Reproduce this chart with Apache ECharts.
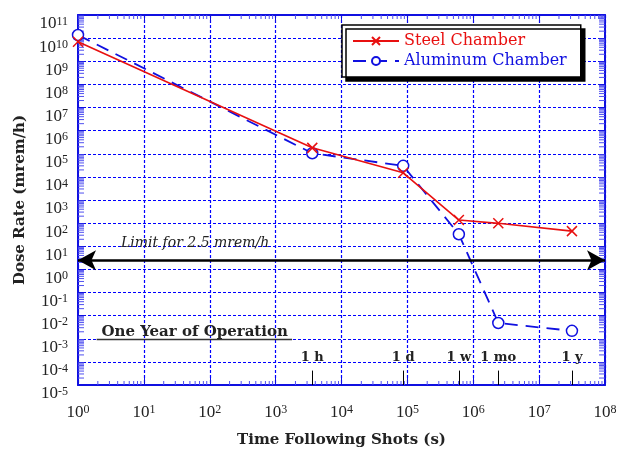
<!DOCTYPE html>
<html lang="en">
  <head>
    <meta charset="UTF-8" />
    <title>Dose Rate</title>
    <script src="https://cdn.jsdelivr.net/npm/echarts@6/dist/echarts.min.js"></script>
    <style>
      html, body { margin: 0; padding: 0; background: #fff; }
      #chart { width: 618px; height: 451px; }
    </style>
  </head>
  <body>
    <div id="chart"></div>
    <script>
      // data
      var steelTime = [1, 3600, 86400, 604800, 2.4e6, 3.15e7];
      var steelRate = [7e9, 1.8e5, 1.5e4, 136, 98, 45];
      var alumTime = [1, 3600, 86400, 604800, 2.4e6, 3.15e7];
      var alumRate = [1.36e10, 1.05e5, 3e4, 33, 0.0048, 0.0022];
      var eventTimes = [3600, 86400, 604800, 2.4e6, 3.15e7];
      var eventLabels = ["1 h", "1 d", "1 w", "1 mo", "1 y"];
      var limitRate = 2.5;
      var xMin = 1, xMax = 1e8, yMin = 1e-5, yMax = 1e11;

      var blue = "#1010e0";
      var red = "#e81010";
      var serif = "Liberation Serif";
      var serif2 = "DejaVu Serif";

      var chart = echarts.init(document.getElementById("chart"));

      function zip(a, b) {
        return a.map(function (v, i) { return [v, b[i]]; });
      }

      // minor tick positions 2..9 in each decade
      function minorVals(e0, e1) {
        var out = [];
        for (var e = e0; e < e1; e++) {
          for (var m = 2; m <= 9; m++) out.push(m * Math.pow(10, e));
        }
        return out;
      }
      var xMinor = minorVals(0, 8).map(function (v) { return [v, 1]; });
      var yMinor = minorVals(-5, 11).map(function (v) { return [1, v]; });

      function powLabel(v) {
        var e = Math.round(Math.log10(v));
        return "{b|10}{s|" + e + "}";
      }
      var powRich = {
        b: { fontSize: 17, fontFamily: serif, color: "#222", lineHeight: 17, padding: [4, 0, 0, 0], verticalAlign: "bottom" },
        s: { fontSize: 12, fontFamily: serif, color: "#222", lineHeight: 12, verticalAlign: "top" }
      };

      var splitStyle = { show: true, lineStyle: { color: "#0000ff", width: 1.2, type: [3, 2] } };
      var lineAxis = { show: true, lineStyle: { color: blue, width: 2 } };
      var majorTick = { show: true, inside: true, length: 7, lineStyle: { color: blue, width: 1 } };

      var crossPath = "path://M0,0L10,10M10,0L0,10";

      var option = {
        animation: false,
        grid: { left: 78, right: 13, top: 15, bottom: 66, show: false, outerBoundsMode: "none", containLabel: false },
        legend: {
          orient: "vertical",
          left: 342,
          top: 25,
          padding: [8, 14, 8, 10],
          itemGap: 4,
          itemWidth: 46,
          itemHeight: 10,
          backgroundColor: "#fff",
          borderColor: "#000",
          borderWidth: 1.5,
          shadowColor: "#000",
          shadowBlur: 0,
          shadowOffsetX: 4,
          shadowOffsetY: 4,
          textStyle: { fontFamily: serif2, fontSize: 16 },
          data: [
            { name: "Steel Chamber", textStyle: { color: red } },
            { name: "Aluminum Chamber", textStyle: { color: blue } }
          ]
        },
        xAxis: [
          {
            type: "log", logBase: 10, min: xMin, max: xMax, interval: 1,
            name: "Time Following Shots (s)", nameLocation: "middle", nameGap: 48,
            nameTextStyle: { fontFamily: serif2, fontWeight: "bold", fontSize: 15, color: "#222" },
            axisLine: lineAxis, axisTick: majorTick, splitLine: splitStyle,
            axisLabel: { margin: 19, formatter: powLabel, rich: powRich }
          },
          {
            type: "log", logBase: 10, min: xMin, max: xMax, interval: 1, position: "top",
            axisLine: lineAxis, axisTick: majorTick, splitLine: { show: false }, axisLabel: { show: false }
          }
        ],
        yAxis: [
          {
            type: "log", logBase: 10, min: yMin, max: yMax, interval: 1,
            name: "Dose Rate (mrem/h)", nameLocation: "middle", nameGap: 50,
            nameTextStyle: { fontFamily: serif2, fontWeight: "bold", fontSize: 15, color: "#222" },
            axisLine: lineAxis, axisTick: majorTick, splitLine: splitStyle,
            axisLabel: { margin: 10, padding: [18, 0, 0, 0], formatter: powLabel, rich: powRich }
          },
          {
            type: "log", logBase: 10, min: yMin, max: yMax, interval: 1, position: "right",
            axisLine: lineAxis, axisTick: majorTick, splitLine: { show: false }, axisLabel: { show: false }
          }
        ],
        series: [
          {
            type: "custom", silent: true, clip: false, data: xMinor,
            renderItem: function (params, api) {
              var v = api.value(0);
              var b = api.coord([v, yMin]);
              var t = api.coord([v, yMax]);
              var st = { stroke: "#5050f0", lineWidth: 1 };
              return {
                type: "group",
                children: [
                  { type: "line", shape: { x1: b[0], y1: b[1], x2: b[0], y2: b[1] - 4 }, style: st },
                  { type: "line", shape: { x1: t[0], y1: t[1], x2: t[0], y2: t[1] + 4 }, style: st }
                ]
              };
            }
          },
          {
            type: "custom", silent: true, clip: false, data: yMinor,
            renderItem: function (params, api) {
              var v = api.value(1);
              var l = api.coord([xMin, v]);
              var r = api.coord([xMax, v]);
              var st = { stroke: "#5050f0", lineWidth: 1 };
              return {
                type: "group",
                children: [
                  { type: "line", shape: { x1: l[0], y1: l[1], x2: l[0] + 6, y2: l[1] }, style: st },
                  { type: "line", shape: { x1: r[0], y1: r[1], x2: r[0] - 6, y2: r[1] }, style: st }
                ]
              };
            }
          },
          {
            name: "annotations", type: "line", data: [], silent: true,
            markLine: {
              silent: true,
              animation: false,
              label: { show: false },
              symbol: ["arrow", "arrow"],
              symbolSize: [15, 18],
              lineStyle: { color: "#000", width: 2.5, type: "solid" },
              data: [{ yAxis: limitRate }]
                .concat(eventTimes.map(function (t) {
                  return [
                    { coord: [t, yMin], symbol: "none", lineStyle: { color: "#000", width: 1, type: "solid" } },
                    { coord: [t, 4.2e-5], symbol: "none" }
                  ];
                }))
                .concat([[
                  { coord: [1.92, 1e-3], symbol: "none", lineStyle: { color: "#333", width: 1.3, type: "solid" } },
                  { coord: [1776, 1e-3], symbol: "none" }
                ]])
            },
            markPoint: {
              silent: true,
              animation: false,
              symbol: "circle",
              symbolSize: 1,
              itemStyle: { color: "rgba(0,0,0,0)" },
              data: [
                {
                  coord: [60, 13.5],
                  label: { show: true, position: "inside", formatter: "Limit for 2.5 mrem/h", fontFamily: serif2, fontStyle: "italic", fontSize: 14, color: "#222" }
                },
                {
                  coord: [59, 1.95e-3],
                  label: { show: true, position: "inside", formatter: "One Year of Operation", fontFamily: serif2, fontWeight: "bold", fontSize: 15, color: "#222" }
                }
              ].concat(eventTimes.map(function (t, i) {
                return {
                  coord: [t, 1.5e-4],
                  label: { show: true, position: "inside", formatter: eventLabels[i], fontFamily: serif2, fontWeight: "bold", fontSize: 13, color: "#222" }
                };
              }))
            }
          },
          {
            name: "Steel Chamber", type: "line", clip: false,
            data: zip(steelTime, steelRate),
            symbol: crossPath, symbolSize: 10,
            lineStyle: { color: red, width: 1.6 },
            itemStyle: { color: "rgba(0,0,0,0)", borderColor: red, borderWidth: 1.5 },
            z: 4
          },
          {
            name: "Aluminum Chamber", type: "line", clip: false,
            data: zip(alumTime, alumRate),
            symbol: "circle", symbolSize: 11,
            lineStyle: { color: blue, width: 1.8, type: [13, 8] },
            itemStyle: { color: "#fff", borderColor: blue, borderWidth: 1.5 },
            z: 3
          }
        ]
      };

      chart.setOption(option);
    </script>
  </body>
</html>
